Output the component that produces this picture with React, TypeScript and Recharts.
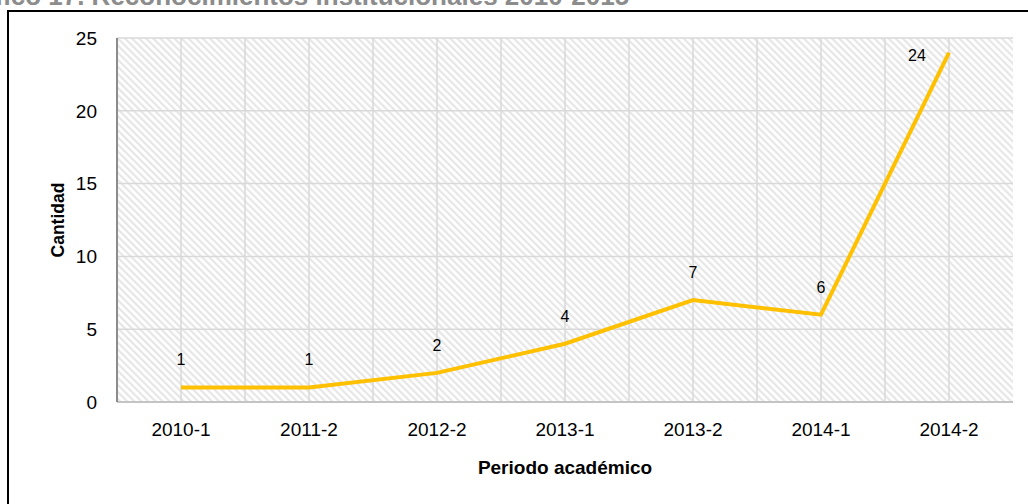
import React from "react";
import {
  LineChart,
  Line,
  XAxis,
  YAxis,
  CartesianGrid,
  LabelList,
  Label,
} from "recharts";

const periods = ["2010-1", "2011-2", "2012-2", "2013-1", "2013-2", "2014-1", "2014-2"];
const cantidad = [1, 1, 2, 4, 7, 6, 24];
const yTicks = [0, 5, 10, 15, 20, 25];

const data = periods.map((p, i) => ({ periodo: p, cantidad: cantidad[i] }));

const FONT = "'Liberation Sans', Arial, sans-serif";
const BAND_PAD = 64;

// grid lines at category centres and the boundaries between them
function verticalLines({ offset }: any) {
  const n = periods.length;
  const step = offset.width / (2 * n);
  const out: number[] = [];
  for (let k = 1; k < 2 * n; k++) out.push(offset.left + k * step);
  return out;
}

function DataLabel(props: any) {
  const { x, y, value, index } = props;
  const last = index === cantidad.length - 1;
  return (
    <text
      x={last ? x - 32 : x}
      y={last ? y + 8 : y - 22}
      textAnchor="middle"
      fontSize={16}
      fontFamily={FONT}
      fill="#000"
    >
      {value}
    </text>
  );
}

function YTitle(props: any) {
  const vb = props.viewBox || { x: 0, y: 38, width: 117, height: 364 };
  const cx = vb.x + 58;
  const cy = vb.y + vb.height / 2;
  return (
    <text
      x={cx}
      y={cy}
      transform={`rotate(-90 ${cx} ${cy})`}
      textAnchor="middle"
      dominantBaseline="central"
      fontSize={17.5}
      fontWeight="bold"
      fontFamily={FONT}
      fill="#000"
    >
      Cantidad
    </text>
  );
}

export default function App() {
  return (
    <div
      style={{
        position: "fixed",
        left: 0,
        top: 0,
        width: 1028,
        height: 504,
        overflow: "hidden",
        background: "#fff",
      }}
    >
      <div
        style={{
          position: "absolute",
          left: -50,
          top: -19,
          whiteSpace: "nowrap",
          fontFamily: FONT,
          fontWeight: "bold",
          fontSize: 26,
          color: "#8c8c8c",
        }}
      >
        Gráfico 17. Reconocimientos institucionales 2010-2015
      </div>
      <div
        style={{
          position: "absolute",
          left: 7,
          top: 10,
          width: 1100,
          height: 600,
          border: "2px solid #000",
        }}
      />
      <div style={{ position: "absolute", left: 0, top: 0 }}>
        <LineChart
          width={1028}
          height={504}
          data={data}
          margin={{ top: 38, right: 15, bottom: 30, left: 0 }}
        >
          <defs>
            <pattern
              id="hatch"
              patternUnits="userSpaceOnUse"
              width={5}
              height={5}
              patternTransform="rotate(-45)"
            >
              <rect x={0} y={0} width={5} height={5} fill="#fff" />
              <line x1={1.2} y1={0} x2={1.2} y2={5} stroke="#e4e4e4" strokeWidth={2} />
            </pattern>
          </defs>
          <CartesianGrid
            fill="url(#hatch)"
            stroke="#d9d9d9"
            strokeWidth={1.5}
            verticalCoordinatesGenerator={verticalLines}
          />
          <XAxis
            dataKey="periodo"
            padding={{ left: BAND_PAD, right: BAND_PAD }}
            height={72}
            tickLine={false}
            tickMargin={15}
            axisLine={{ stroke: "#c4c4c4", strokeWidth: 2 }}
            tick={{ fontSize: 19, fill: "#000", fontFamily: FONT }}
            interval={0}
          >
            <Label
              value="Periodo académico"
              position="insideBottom"
              offset={0}
              style={{ fontSize: 19, fontWeight: "bold", fill: "#000", fontFamily: FONT }}
            />
          </XAxis>
          <XAxis
            xAxisId="top"
            orientation="top"
            dataKey="periodo"
            height={0}
            tick={false}
            tickLine={false}
            axisLine={{ stroke: "#8c8c8c", strokeWidth: 2 }}
          />
          <YAxis
            width={117}
            domain={[0, 25]}
            ticks={yTicks}
            tickLine={false}
            tickMargin={14}
            axisLine={{ stroke: "#8c8c8c", strokeWidth: 2 }}
            tick={{ fontSize: 19, fill: "#000", fontFamily: FONT }}
          >
            <Label content={YTitle} />
          </YAxis>
          <YAxis
            yAxisId="right"
            orientation="right"
            width={0}
            tick={false}
            tickLine={false}
            axisLine={{ stroke: "#8c8c8c", strokeWidth: 2 }}
          />
          <Line
            dataKey="cantidad"
            stroke="#FFC000"
            strokeWidth={4}
            dot={false}
            activeDot={false}
            isAnimationActive={false}
          >
            <LabelList dataKey="cantidad" content={DataLabel} />
          </Line>
        </LineChart>
      </div>
    </div>
  );
}
